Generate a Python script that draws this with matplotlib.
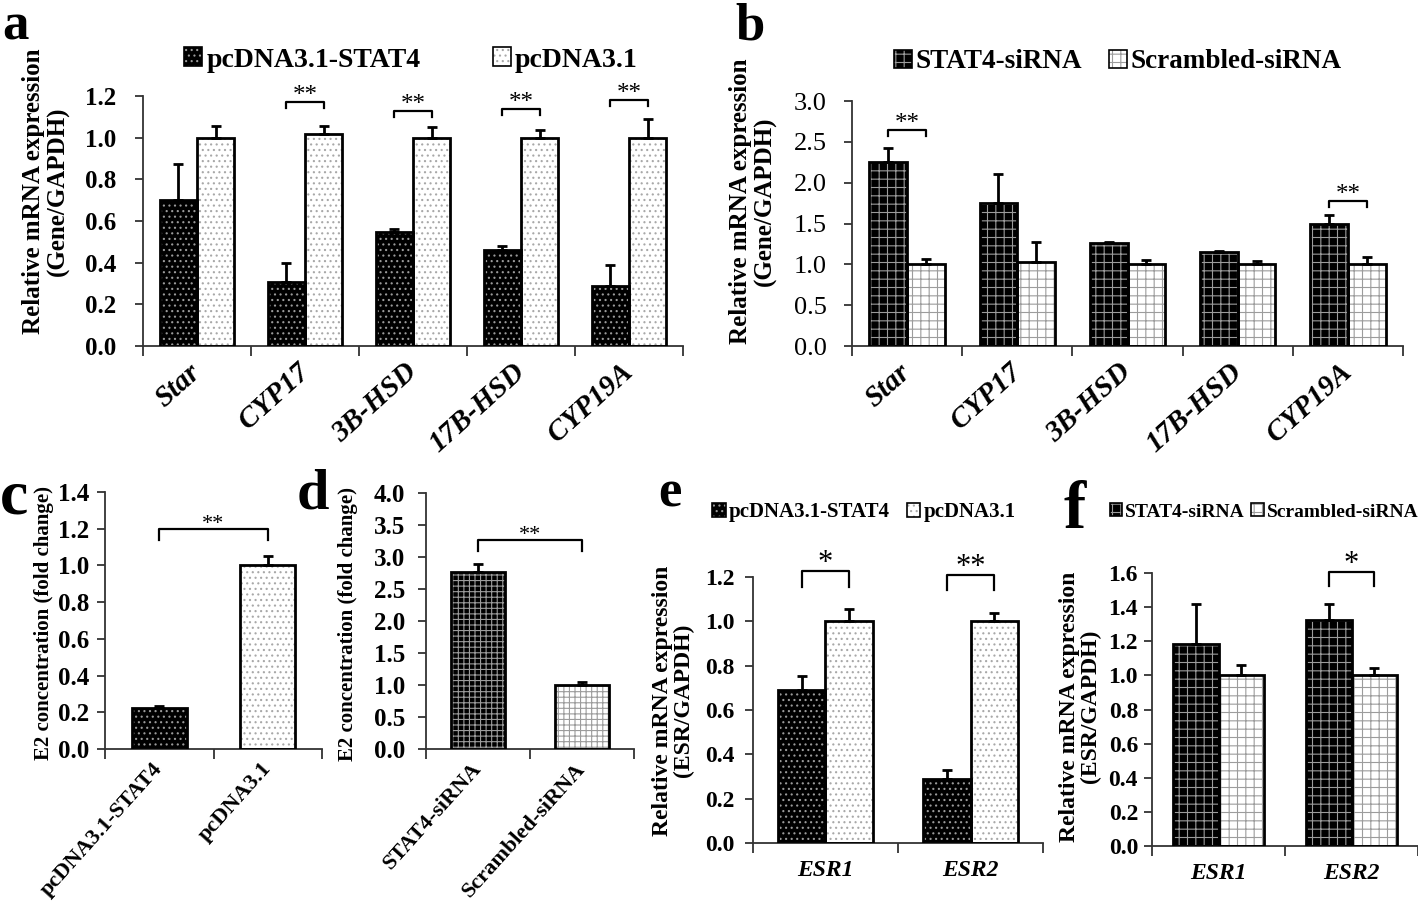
import numpy as np
import matplotlib
matplotlib.use('Agg')
import matplotlib.pyplot as plt
from matplotlib.patches import Patch
from matplotlib.legend_handler import HandlerTuple

# ---- data ----
genes = ['Star', 'CYP17', '3B-HSD', '17B-HSD', 'CYP19A']
a_stat4 = [0.70, 0.305, 0.545, 0.462, 0.29]
a_stat4_err = [0.175, 0.092, 0.016, 0.016, 0.10]
a_ctrl = [1.0, 1.017, 1.0, 1.0, 1.0]
a_ctrl_err = [0.056, 0.038, 0.051, 0.038, 0.088]
a_sig = ['', '**', '**', '**', '**']
a_sig_y = [0, 1.171, 1.127, 1.139, 1.18]

b_si = [2.25, 1.75, 1.262, 1.148, 1.498]
b_si_err = [0.18, 0.354, 0.012, 0.012, 0.11]
b_scr = [1.0, 1.026, 1.0, 1.0, 1.0]
b_scr_err = [0.061, 0.244, 0.053, 0.041, 0.094]
b_sig = ['**', '', '', '', '**']
b_sig_y = [2.646, 0, 0, 0, 1.779]

c_groups = ['pcDNA3.1-STAT4', 'pcDNA3.1']
c_vals = [0.226, 1.0]
c_err = [0.009, 0.05]
c_sig_y = 1.20

d_groups = ['STAT4-siRNA', 'Scrambled-siRNA']
d_vals = [2.76, 1.0]
d_err = [0.136, 0.052]
d_sig_y = 3.27

esr = ['ESR1', 'ESR2']
e_stat4 = [0.689, 0.289]
e_stat4_err = [0.063, 0.039]
e_ctrl = [1.0, 1.0]
e_ctrl_err = [0.057, 0.038]
e_sig = ['*', '**']
e_sig_y = [1.226, 1.211]

f_si = [1.182, 1.327]
f_si_err = [0.235, 0.09]
f_scr = [1.0, 1.0]
f_scr_err = [0.059, 0.045]
f_sig = ['', '*']
f_sig_y = [0, 1.606]

plt.rcParams['font.family'] = 'Liberation Serif'
plt.rcParams['hatch.linewidth'] = 0.8

W, H = 1418, 905
fig = plt.figure(figsize=(W / 100, H / 100), dpi=100)


def px_axes(l, r, t, b):
    return fig.add_axes([l / W, 1 - b / H, (r - l) / W, (b - t) / H])


# fill styles: (face, hatch colour, hatch)
dot_black = ('black', '#9a9a9a', '...')
dot_white = ('white', '#a8a8a8', '...')
grid_black = ('black', '#9c9c9c', '++')
grid_white = ('white', '#9c9c9c', '++')
grid_black_d = ('black', '#9c9c9c', '+++')
grid_white_d = ('white', '#9c9c9c', '+++')


def bars(ax, x, h, w, style, err):
    face, hc, hatch = style
    ax.bar(x, h, w, color=face, edgecolor=hc, hatch=hatch, lw=0, zorder=2)
    ax.bar(x, h, w, fill=False, edgecolor='black', lw=2, zorder=3)
    ax.errorbar(x, h, yerr=[np.zeros(len(h)), err], fmt='none', ecolor='black',
                elinewidth=2, capsize=3.5, capthick=2, zorder=4)


def frame(ax, n, ymax, step, tsize, pad, bold=True):
    ax.set_xlim(0, n)
    ax.set_ylim(0, ymax)
    for s in ['top', 'right']:
        ax.spines[s].set_visible(False)
    for s in ['left', 'bottom']:
        ax.spines[s].set_linewidth(1.3)
        ax.spines[s].set_color('#333333')
    yt = np.arange(0, ymax + 1e-9, step)
    ax.set_yticks(yt)
    ax.set_yticklabels(['%.1f' % v for v in yt], fontsize=tsize,
                       fontweight='bold' if bold else 'normal')
    ax.tick_params(axis='y', direction='out', length=6, width=1.3, color='#333333', pad=pad)
    ax.set_xticks(np.arange(n + 1), minor=True)
    ax.tick_params(axis='x', which='minor', direction='out', length=7, width=1.3, color='#333333')
    ax.tick_params(axis='x', which='major', length=0)


def bracket(ax, x1, x2, top, drop, text, size, weight='normal'):
    ax.plot([x1, x1, x2, x2], [top - drop, top, top, top - drop], color='black',
            lw=1.6, clip_on=False, zorder=5)
    ax.text((x1 + x2) / 2, top, text, ha='center', va='baseline', fontsize=size,
            fontweight=weight, clip_on=False)


def legend(x, y, labels, styles, size, spacing):
    handles = []
    for face, hc, hatch in styles:
        handles.append((Patch(facecolor=face, edgecolor=hc, hatch=hatch, lw=0),
                        Patch(fill=False, edgecolor='black', lw=1.2)))
    fig.legend(handles, labels, loc='center', bbox_to_anchor=(x / W, 1 - y / H), ncol=2,
               frameon=False, handler_map={tuple: HandlerTuple(ndivide=1, pad=0)},
               prop={'weight': 'bold', 'size': size}, handlelength=0.65, handleheight=0.65,
               handletextpad=0.15, columnspacing=spacing, borderpad=0)


def panel_label(x, y, s, size):
    fig.text(x / W, 1 - y / H, s, fontsize=size, fontweight='bold', va='baseline', ha='left')


# ---- panel a ----
ax = px_axes(143, 683, 96, 346)
n = len(genes)
cx = np.arange(n) + 0.5
w = 0.343
bars(ax, cx - w / 2, a_stat4, w, dot_black, a_stat4_err)
bars(ax, cx + w / 2, a_ctrl, w, dot_white, a_ctrl_err)
frame(ax, n, 1.2, 0.2, 18, 13)
ax.set_xticks(cx)
ax.set_xticklabels(genes, rotation=42, ha='right', va='center', rotation_mode='anchor',
                   fontsize=21, fontweight='bold', fontstyle='italic')
ax.tick_params(axis='x', which='major', pad=16)
for i in range(n):
    if a_sig[i]:
        bracket(ax, cx[i] - w / 2, cx[i] + w / 2, a_sig_y[i], 0.03, a_sig[i], 18)
ax.text(-0.18, 0.62, 'Relative mRNA expression\n(Gene/GAPDH)', transform=ax.transAxes,
        rotation=90, ha='center', va='center', fontsize=18, fontweight='bold', linespacing=1.05)
legend(411, 60, ['pcDNA3.1-STAT4', 'pcDNA3.1'], [dot_black, dot_white], 20, 2.6)
panel_label(2, 40, 'a', 38)

# ---- panel b ----
ax = px_axes(852, 1403, 101, 346)
bars(ax, cx - w / 2, b_si, w, grid_black, b_si_err)
bars(ax, cx + w / 2, b_scr, w, grid_white, b_scr_err)
frame(ax, n, 3.0, 0.5, 19, 12, bold=False)
ax.set_xticks(cx)
ax.set_xticklabels(genes, rotation=42, ha='right', va='center', rotation_mode='anchor',
                   fontsize=21, fontweight='bold', fontstyle='italic')
ax.tick_params(axis='x', which='major', pad=16)
for i in range(n):
    if b_sig[i]:
        bracket(ax, cx[i] - w / 2, cx[i] + w / 2, b_sig_y[i], 0.075, b_sig[i], 18)
ax.text(-0.18, 0.59, 'Relative mRNA expression\n(Gene/GAPDH)', transform=ax.transAxes,
        rotation=90, ha='center', va='center', fontsize=18, fontweight='bold', linespacing=1.05)
legend(1118, 62, ['STAT4-siRNA', 'Scrambled-siRNA'], [grid_black, grid_white], 19.5, 1.0)
panel_label(735, 40, 'b', 38)

# ---- panel c ----
ax = px_axes(105, 322, 492, 749)
cx2 = np.arange(2) + 0.5
bars(ax, cx2[:1], c_vals[:1], 0.51, dot_black, c_err[:1])
bars(ax, cx2[1:], c_vals[1:], 0.51, dot_white, c_err[1:])
frame(ax, 2, 1.4, 0.2, 18, 5)
ax.set_xticks(cx2)
ax.set_xticklabels(c_groups, rotation=48, ha='right', va='center', rotation_mode='anchor',
                   fontsize=16, fontweight='bold')
ax.tick_params(axis='x', which='major', pad=12)
bracket(ax, cx2[0], cx2[1], c_sig_y, 0.06, '**', 16)
ax.text(-0.28, 0.49, 'E2 concentration (fold change)', transform=ax.transAxes,
        rotation=90, ha='center', va='center', fontsize=15, fontweight='bold')
panel_label(0, 513, 'c', 46)

# ---- panel d ----
ax = px_axes(426, 634, 493, 749)
bars(ax, cx2[:1], d_vals[:1], 0.51, grid_black_d, d_err[:1])
bars(ax, cx2[1:], d_vals[1:], 0.51, grid_white_d, d_err[1:])
frame(ax, 2, 4.0, 0.5, 18, 9)
ax.set_xticks(cx2)
ax.set_xticklabels(d_groups, rotation=48, ha='right', va='center', rotation_mode='anchor',
                   fontsize=16, fontweight='bold')
ax.tick_params(axis='x', which='major', pad=12)
bracket(ax, cx2[0], cx2[1], d_sig_y, 0.18, '**', 16)
ax.text(-0.375, 0.49, 'E2 concentration (fold change)', transform=ax.transAxes,
        rotation=90, ha='center', va='center', fontsize=15, fontweight='bold')
panel_label(297, 508, 'd', 42)

# ---- panel e ----
ax = px_axes(753, 1043, 577, 843)
w2 = 0.33
bars(ax, cx2 - w2 / 2, e_stat4, w2, dot_black, e_stat4_err)
bars(ax, cx2 + w2 / 2, e_ctrl, w2, dot_white, e_ctrl_err)
frame(ax, 2, 1.2, 0.2, 17, 7)
ax.set_xticks(cx2)
ax.set_xticklabels(esr, fontsize=17, fontweight='bold', fontstyle='italic')
ax.tick_params(axis='x', which='major', pad=12)
for i in range(2):
    if e_sig[i]:
        bracket(ax, cx2[i] - w2 / 2, cx2[i] + w2 / 2, e_sig_y[i], 0.07, e_sig[i], 22)
ax.text(-0.276, 0.535, 'Relative mRNA expression\n(ESR/GAPDH)', transform=ax.transAxes,
        rotation=90, ha='center', va='center', fontsize=17, fontweight='bold', linespacing=1.0)
legend(864, 512, ['pcDNA3.1-STAT4', 'pcDNA3.1'], [dot_black, dot_white], 15, 0.8)
panel_label(658, 506, 'e', 38)

# ---- panel f ----
ax = px_axes(1152, 1418, 573, 846)
w3 = 0.34
bars(ax, cx2 - w3 / 2, f_si, w3, grid_black, f_si_err)
bars(ax, cx2 + w3 / 2, f_scr, w3, grid_white, f_scr_err)
frame(ax, 2, 1.6, 0.2, 17, 4)
ax.set_xticks(cx2)
ax.set_xticklabels(esr, fontsize=17, fontweight='bold', fontstyle='italic')
ax.tick_params(axis='x', which='major', pad=12)
for i in range(2):
    if f_sig[i]:
        bracket(ax, cx2[i] - w3 / 2, cx2[i] + w3 / 2, f_sig_y[i], 0.085, f_sig[i], 22)
ax.text(-0.27, 0.51, 'Relative mRNA expression\n(ESR/GAPDH)', transform=ax.transAxes,
        rotation=90, ha='center', va='center', fontsize=17, fontweight='bold', linespacing=1.0)
legend(1264, 512, ['STAT4-siRNA', 'Scrambled-siRNA'], [grid_black, grid_white], 14, 0.3)
panel_label(1064, 528, 'f', 48)

fig.savefig('out.png', dpi=100)
